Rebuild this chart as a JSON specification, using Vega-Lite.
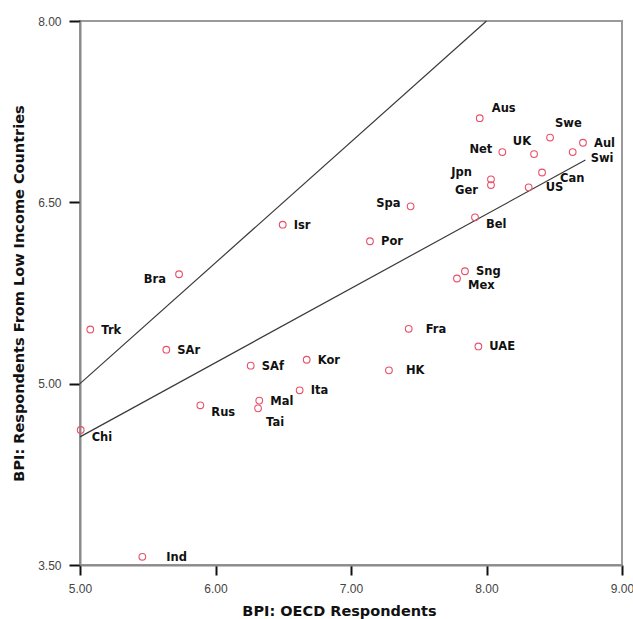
{
  "$schema": "https://vega.github.io/schema/vega-lite/v6.json",
  "autosize": "none",
  "width": 542,
  "height": 544,
  "padding": {"left": 80, "top": 21, "right": 11, "bottom": 54},
  "background": "white",
  "config": {
    "view": {"stroke": "#9a9a9a", "strokeWidth": 2},
    "axis": {
      "domainColor": "#8a8a8a",
      "domainWidth": 2,
      "grid": false,
      "labelFlush": false,
      "labelFont": "Liberation Sans",
      "labelFontSize": 12,
      "labelColor": "#444444",
      "titleFont": "DejaVu Sans",
      "titleFontWeight": "bold",
      "titleFontSize": 14.5,
      "titleColor": "#111111"
    },
    "text": {"font": "DejaVu Sans", "fontWeight": "bold", "fontSize": 11.5, "color": "#111111", "baseline": "middle"}
  },
  "datasets": {
    "pts": [
      {"c": "Aus", "oecd": 7.95, "low": 7.196},
      {"c": "Swe", "oecd": 8.469, "low": 7.036},
      {"c": "Aul", "oecd": 8.712, "low": 6.993},
      {"c": "Swi", "oecd": 8.636, "low": 6.916},
      {"c": "Net", "oecd": 8.117, "low": 6.916},
      {"c": "UK", "oecd": 8.351, "low": 6.899},
      {"c": "Can", "oecd": 8.41, "low": 6.747},
      {"c": "US", "oecd": 8.311, "low": 6.624},
      {"c": "Jpn", "oecd": 8.033, "low": 6.69},
      {"c": "Ger", "oecd": 8.033, "low": 6.643},
      {"c": "Spa", "oecd": 7.44, "low": 6.467},
      {"c": "Bel", "oecd": 7.915, "low": 6.376},
      {"c": "Por", "oecd": 7.14, "low": 6.178},
      {"c": "Sng", "oecd": 7.841, "low": 5.93},
      {"c": "Mex", "oecd": 7.782, "low": 5.87},
      {"c": "Isr", "oecd": 6.496, "low": 6.315},
      {"c": "Bra", "oecd": 5.731, "low": 5.905},
      {"c": "Trk", "oecd": 5.076, "low": 5.448},
      {"c": "SAr", "oecd": 5.637, "low": 5.281},
      {"c": "SAf", "oecd": 6.26, "low": 5.149},
      {"c": "Kor", "oecd": 6.673, "low": 5.198},
      {"c": "Ita", "oecd": 6.621, "low": 4.945},
      {"c": "Mal", "oecd": 6.323, "low": 4.86},
      {"c": "Tai", "oecd": 6.314, "low": 4.796},
      {"c": "Rus", "oecd": 5.888, "low": 4.821},
      {"c": "Chi", "oecd": 5.005, "low": 4.617},
      {"c": "Ind", "oecd": 5.46, "low": 3.568},
      {"c": "Fra", "oecd": 7.426, "low": 5.454},
      {"c": "UAE", "oecd": 7.94, "low": 5.308},
      {"c": "HK", "oecd": 7.28, "low": 5.11}
    ],
    "lines": [
      {"s": "equal", "oecd": 5.0, "low": 5.0},
      {"s": "equal", "oecd": 8.0, "low": 8.0},
      {"s": "fit", "oecd": 5.0, "low": 4.56},
      {"s": "fit", "oecd": 8.73, "low": 6.85}
    ]
  },
  "encoding": {
    "x": {
      "field": "oecd", "type": "quantitative",
      "scale": {"domain": [5, 9], "nice": false, "zero": false},
      "axis": {"ticks": true, "tickColor": "#111111", "tickWidth": 2, "tickSize": 10, "tickCap": "butt", "tickOpacity": 1, "tickCount": 5, "tickMinStep": 1, "format": ".2f", "title": "BPI: OECD Respondents", "labelPadding": 8, "titlePadding": 10, "titleX": 259, "titleAlign": "center"}
    },
    "y": {
      "field": "low", "type": "quantitative",
      "scale": {"domain": [3.5, 8], "nice": false, "zero": false},
      "axis": {"ticks": true, "tickColor": "#111111", "tickWidth": 2, "tickSize": 11, "tickCap": "butt", "tickOpacity": 1, "values": [3.5, 5, 6.5, 8], "format": ".2f", "title": "BPI: Respondents From Low Income Countries", "labelPadding": 8, "titlePadding": 11}
    }
  },
  "layer": [
    {
      "data": {"name": "lines"},
      "mark": {"type": "line", "color": "#3a3a3a", "strokeWidth": 1.2},
      "encoding": {"detail": {"field": "s"}}
    },
    {
      "data": {"name": "pts"},
      "mark": {"type": "point", "shape": "circle", "filled": false, "size": 45, "color": "#e8506a", "strokeWidth": 1.1, "opacity": 1}
    },
    {
      "data": {"name": "pts"},
      "transform": [{"filter": {"field": "c", "oneOf": ["Aul", "Isr", "Por", "Sng", "Trk", "SAr", "SAf", "Kor", "Ita", "Mal", "UAE"]}}],
      "mark": {"type": "text", "align": "left", "dx": 11, "dy": 1},
      "encoding": {"text": {"field": "c"}}
    },
    {
      "data": {"name": "pts"},
      "transform": [{"filter": {"field": "c", "oneOf": ["HK", "Fra", "US"]}}],
      "mark": {"type": "text", "align": "left", "dx": 17, "dy": 1},
      "encoding": {"text": {"field": "c"}}
    },
    {
      "data": {"name": "pts"},
      "transform": [{"filter": {"field": "c", "oneOf": ["Ind"]}}],
      "mark": {"type": "text", "align": "left", "dx": 24, "dy": 1},
      "encoding": {"text": {"field": "c"}}
    },
    {
      "data": {"name": "pts"},
      "transform": [{"filter": {"field": "c", "oneOf": ["Bel", "Mex", "Rus", "Chi"]}}],
      "mark": {"type": "text", "align": "left", "dx": 11, "dy": 8},
      "encoding": {"text": {"field": "c"}}
    },
    {
      "data": {"name": "pts"},
      "transform": [{"filter": {"field": "c", "oneOf": ["Swi", "Can"]}}],
      "mark": {"type": "text", "align": "left", "dx": 18, "dy": 7},
      "encoding": {"text": {"field": "c"}}
    },
    {
      "data": {"name": "pts"},
      "transform": [{"filter": {"field": "c", "oneOf": ["Tai"]}}],
      "mark": {"type": "text", "align": "left", "dx": 8, "dy": 15},
      "encoding": {"text": {"field": "c"}}
    },
    {
      "data": {"name": "pts"},
      "transform": [{"filter": {"field": "c", "oneOf": ["Aus"]}}],
      "mark": {"type": "text", "align": "left", "dx": 12, "dy": -9},
      "encoding": {"text": {"field": "c"}}
    },
    {
      "data": {"name": "pts"},
      "transform": [{"filter": {"field": "c", "oneOf": ["Swe"]}}],
      "mark": {"type": "text", "align": "left", "dx": 5, "dy": -14},
      "encoding": {"text": {"field": "c"}}
    },
    {
      "data": {"name": "pts"},
      "transform": [{"filter": {"field": "c", "oneOf": ["Net", "Spa"]}}],
      "mark": {"type": "text", "align": "right", "dx": -10, "dy": -2},
      "encoding": {"text": {"field": "c"}}
    },
    {
      "data": {"name": "pts"},
      "transform": [{"filter": {"field": "c", "oneOf": ["Bra", "Ger"]}}],
      "mark": {"type": "text", "align": "right", "dx": -13, "dy": 6},
      "encoding": {"text": {"field": "c"}}
    },
    {
      "data": {"name": "pts"},
      "transform": [{"filter": {"field": "c", "oneOf": ["Jpn"]}}],
      "mark": {"type": "text", "align": "right", "dx": -19, "dy": -6},
      "encoding": {"text": {"field": "c"}}
    },
    {
      "data": {"name": "pts"},
      "transform": [{"filter": {"field": "c", "oneOf": ["UK"]}}],
      "mark": {"type": "text", "align": "right", "dx": -3, "dy": -12},
      "encoding": {"text": {"field": "c"}}
    }
  ]
}
